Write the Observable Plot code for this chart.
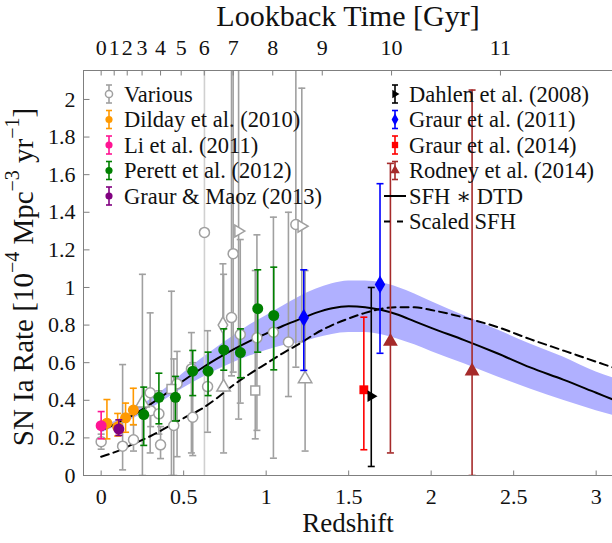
<!DOCTYPE html>
<html><head><meta charset="utf-8">
<script src="https://cdn.jsdelivr.net/npm/d3@7"></script>
<script src="https://cdn.jsdelivr.net/npm/@observablehq/plot@0.6"></script>
<style>
body{margin:0;background:#fff;}
#wrap{width:612px;height:543px;}
svg text{font-family:"Liberation Serif","DejaVu Serif",serif !important;}
</style></head><body><div id="wrap"></div>
<script>
// ---------- axes / ticks ----------
const xDomain = [-0.107, 3.099];
const yDomain = [0, 2.154];
const xTicks = [0, 0.5, 1, 1.5, 2, 2.5, 3];
const yTicks = [0, 0.2, 0.4, 0.6, 0.8, 1, 1.2, 1.4, 1.6, 1.8, 2];
const lookbackLabels = ["0","1","2","3","4","5","6","7","8","9","10","11"];
const lookbackZ = [0, 0.079, 0.158, 0.248, 0.36, 0.485, 0.625, 0.80, 1.04, 1.34, 1.76, 2.42];

// ---------- model curves ----------
const curveZ     = [0, 0.1, 0.2, 0.3, 0.4, 0.5, 0.6, 0.7, 0.8, 0.9, 1.0, 1.1, 1.2, 1.3, 1.4, 1.5, 1.6, 1.7, 1.8, 1.9, 2.0, 2.2, 2.4, 2.6, 2.8, 3.0, 3.1];
const sfhDtd     = [0.24, 0.28, 0.325, 0.38, 0.44, 0.505, 0.565, 0.62, 0.67, 0.715, 0.755, 0.795, 0.83, 0.865, 0.89, 0.9, 0.895, 0.88, 0.855, 0.82, 0.785, 0.72, 0.65, 0.575, 0.51, 0.44, 0.405];
const sfhDtdLo   = [0.225, 0.265, 0.305, 0.355, 0.41, 0.465, 0.515, 0.56, 0.60, 0.635, 0.665, 0.69, 0.705, 0.73, 0.75, 0.76, 0.76, 0.748, 0.725, 0.695, 0.66, 0.595, 0.525, 0.46, 0.40, 0.345, 0.32];
const sfhDtdHi   = [0.255, 0.295, 0.345, 0.405, 0.47, 0.545, 0.615, 0.68, 0.74, 0.80, 0.85, 0.90, 0.95, 0.99, 1.02, 1.035, 1.035, 1.025, 1.0, 0.965, 0.925, 0.85, 0.775, 0.70, 0.63, 0.55, 0.52];
const scaledSfh  = [0.10, 0.13, 0.17, 0.21, 0.257, 0.305, 0.35, 0.41, 0.48, 0.54, 0.595, 0.65, 0.70, 0.755, 0.80, 0.835, 0.865, 0.887, 0.895, 0.895, 0.88, 0.84, 0.79, 0.725, 0.665, 0.605, 0.575];

// ---------- "Various" compilation ----------
const variousZ     = [0.00, 0.13, 0.196, 0.25, 0.297, 0.30, 0.35, 0.36, 0.426, 0.44, 0.46, 0.547, 0.555, 0.645, 0.742, 0.738, 0.79, 0.80, 0.833, 0.843, 0.934, 0.944, 1.044, 1.135, 1.18, 1.216, 1.236];
const variousRate  = [0.18, 0.156, 0.19, 0.385, 0.44, 0.345, 0.328, 0.163, 0.46, 0.266, 0.488, 0.567, 0.31, 0.473, 0.47, 0.80, 0.84, 1.18, 1.30, 0.75, 0.452, 0.732, 0.762, 0.71, 1.335, 1.326, 0.514];
const variousLo    = [0.14, 0.03, 0.13, 0.0, 0.12, 0.26, 0.22, 0.09, 0.0, 0.0, 0.10, 0.12, 0.106, 0.23, 0.12, 0.45, 0.53, 0.55, 0.30, 0.385, 0.195, 0.24, 0.092, 0.42, 0.576, 0.71, 0.13];
const variousHi    = [0.22, 0.59, 0.27, 1.07, 0.865, 0.43, 0.45, 0.26, 0.98, 0.62, 0.66, 0.76, 0.60, 0.77, 1.07, 1.126, 2.3, 2.3, 2.3, 1.255, 1.09, 1.28, 1.374, 1.40, 2.3, 2.06, 1.09];
const variousShape = ["circle","circle","circle","triangle","circle","circle","circle","circle","square","circle","circle","circle","circle","circle","triangle","diamond","circle","circle","triangleRight","circle","square","circle","circle","circle","circle","triangleRight","triangle"];
const faintZ = [0.626], faintRate = [1.293], faintLo = [0.0], faintHi = [2.3];

// ---------- individual surveys ----------
const dildayZ = [0.035, 0.10, 0.148, 0.195], dildayRate = [0.278, 0.259, 0.307, 0.348], dildayLo = [0.195, 0.21, 0.23, 0.27], dildayHi = [0.404, 0.33, 0.385, 0.464];
const liZ = [0.0], liRate = [0.265], liLo = [0.195], liHi = [0.34];
const perrettZ = [0.258, 0.35, 0.45, 0.555, 0.648, 0.743, 0.844, 0.949, 1.046];
const perrettRate = [0.324, 0.416, 0.416, 0.555, 0.555, 0.668, 0.654, 0.887, 0.851];
const perrettLo = [0.16, 0.275, 0.29, 0.425, 0.425, 0.56, 0.52, 0.656, 0.562];
const perrettHi = [0.47, 0.544, 0.527, 0.665, 0.656, 0.78, 0.78, 1.094, 1.108];
const graurMaozZ = [0.107], graurMaozRate = [0.247], graurMaozLo = [0.213], graurMaozHi = [0.296];
const dahlenZ = [1.637], dahlenRate = [0.422], dahlenLo = [0.048], dahlenHi = [1.0];
const graur11Z = [1.228, 1.69], graur11Rate = [0.839, 1.016], graur11Lo = [0.559, 0.65], graur11Hi = [1.094, 1.552];
const graur14Z = [1.592], graur14Rate = [0.456], graur14Lo = [0.137], graur14Hi = [0.842];
const rodneyZ = [1.753, 2.248], rodneyRate = [0.713, 0.555], rodneyLo = [0.12, 0.0], rodneyHi = [1.66, 2.05];

// ---------- build ----------
const GRAY = "#a0a0a0", AX = "#7f7f7f";
const ORANGE = "#ff9900", PINK = "#ff1493", GREEN = "#008000", PURPLE = "#800080", BLUE = "#0000ff", RED = "#ff0000", BROWN = "#a52a2a";
const FONT = "Liberation Serif, DejaVu Serif, serif";

const rows = (z, r, lo, hi) => z.map((d, i) => ({z: d, rate: r[i], lo: lo[i], hi: hi[i]}));
const curve = curveZ.map((z, i) => ({z, mid: sfhDtd[i], lo: sfhDtdLo[i], hi: sfhDtdHi[i], sfh: scaledSfh[i]}));
const various = variousZ.map((z, i) => ({z, rate: variousRate[i], lo: variousLo[i], hi: variousHi[i], shape: variousShape[i]}));
const faint = rows(faintZ, faintRate, faintLo, faintHi);

const capSym = {draw(c){c.moveTo(-3.5,0);c.lineTo(3.5,0);}};
const tickUp = {draw(c){c.moveTo(0,0);c.lineTo(0,-5);}};
const tickDown = {draw(c){c.moveTo(0,0);c.lineTo(0,5);}};
const tickRight = {draw(c){c.moveTo(0,0);c.lineTo(6,0);}};
const triRight = {draw(c,size){const r=Math.sqrt(size/Math.PI)*1.25;c.moveTo(r,0);c.lineTo(-r*0.6,-r*0.95);c.lineTo(-r*0.6,r*0.95);c.closePath();}};
const symOf = {circle: "circle", square: "square", diamond: "diamond", triangle: "triangle", triangleRight: triRight};

function errorSet(data, color, symbol, r) {
  return [
    Plot.ruleX(data, {x: "z", y1: "lo", y2: "hi", stroke: color, strokeWidth: 1.6, clip: true}),
    Plot.dot(data, {x: "z", y: "hi", symbol: capSym, fill: "none", stroke: color, strokeWidth: 1.6, clip: true}),
    Plot.dot(data, {x: "z", y: "lo", symbol: capSym, fill: "none", stroke: color, strokeWidth: 1.6, clip: true}),
    Plot.dot(data, {x: "z", y: "rate", symbol, r, fill: color, stroke: "none", clip: true})
  ];
}

const shapes = ["circle","square","diamond","triangle","triangleRight"];

const chart = Plot.plot({
  width: 612, height: 543,
  marginLeft: 83, marginRight: 0, marginTop: 70, marginBottom: 68,
  style: {fontFamily: FONT, fontSize: "22px", background: "white"},
  x: {domain: xDomain, axis: null},
  y: {domain: yDomain, axis: null},
  marks: [
    Plot.areaY(curve, {x: "z", y1: "lo", y2: "hi", fill: "#b0b0ff", curve: "monotone-x", clip: true}),
    // gray compilation error bars
    Plot.ruleX(faint, {x: "z", y1: "lo", y2: "hi", stroke: "#d0d0d0", strokeWidth: 1.6, clip: true}),
    Plot.ruleX(various, {x: "z", y1: "lo", y2: "hi", stroke: GRAY, strokeWidth: 1.6, clip: true}),
    Plot.dot(various, {x: "z", y: "hi", symbol: capSym, fill: "none", stroke: GRAY, strokeWidth: 1.6, clip: true}),
    Plot.dot(various, {x: "z", y: "lo", symbol: capSym, fill: "none", stroke: GRAY, strokeWidth: 1.6, clip: true}),
    // model curves
    Plot.line(curve, {x: "z", y: "mid", stroke: "black", strokeWidth: 2, curve: "monotone-x", clip: true}),
    Plot.line(curve, {x: "z", y: "sfh", stroke: "black", strokeWidth: 2, strokeDasharray: "8,5", curve: "monotone-x", clip: true}),
    // gray markers
    Plot.dot(faint, {x: "z", y: "rate", r: 5, fill: "white", stroke: GRAY, strokeWidth: 1.5}),
    ...shapes.map(s => Plot.dot(various.filter(d => d.shape === s), {x: "z", y: "rate", symbol: symOf[s], r: 5, fill: "white", stroke: GRAY, strokeWidth: 1.5, clip: true})),
    // surveys
    ...errorSet(rows(perrettZ, perrettRate, perrettLo, perrettHi), GREEN, "circle", 5.5),
    ...errorSet(rows(dildayZ, dildayRate, dildayLo, dildayHi), ORANGE, "circle", 5.5),
    ...errorSet(rows(graurMaozZ, graurMaozRate, graurMaozLo, graurMaozHi), PURPLE, "circle", 5.5),
    ...errorSet(rows(liZ, liRate, liLo, liHi), PINK, "circle", 5.5),
    ...errorSet(rows(graur11Z, graur11Rate, graur11Lo, graur11Hi), BLUE, "diamond", 5.5),
    ...errorSet(rows(graur14Z, graur14Rate, graur14Lo, graur14Hi), RED, "square", 5),
    ...errorSet(rows(dahlenZ, dahlenRate, dahlenLo, dahlenHi), "black", triRight, 5),
    ...errorSet(rows(rodneyZ, rodneyRate, rodneyLo, rodneyHi), BROWN, "triangle", 5.5),
    // frame lines
    Plot.ruleX([xDomain[0]], {stroke: AX, strokeWidth: 1}),
    Plot.ruleY(yDomain, {stroke: AX, strokeWidth: 1}),
    // inward ticks
    Plot.dot(xTicks, {x: d => d, frameAnchor: "bottom", symbol: tickUp, fill: "none", stroke: AX, strokeWidth: 1}),
    Plot.dot(yTicks, {y: d => d, frameAnchor: "left", symbol: tickRight, fill: "none", stroke: AX, strokeWidth: 1}),
    Plot.dot(lookbackZ, {x: d => d, frameAnchor: "top", symbol: tickDown, fill: "none", stroke: AX, strokeWidth: 1}),
    // tick labels
    Plot.text(xTicks, {x: d => d, text: d => String(d), frameAnchor: "bottom", lineAnchor: "middle", dy: 21, fontSize: 22, fill: "#111"}),
    Plot.text(yTicks, {y: d => d, text: d => String(d), frameAnchor: "left", textAnchor: "end", lineAnchor: "middle", dx: -8, fontSize: 22, fill: "#111"}),
    Plot.text(lookbackZ, {x: d => d, text: (d, i) => lookbackLabels[i], frameAnchor: "top", lineAnchor: "middle", dy: -23, fontSize: 22, fill: "#111"}),
    // titles
    Plot.text(["Lookback Time [Gyr]"], {frameAnchor: "top", lineAnchor: "middle", dy: -54, fontSize: 30, fill: "#111"}),
    Plot.text(["Redshift"], {frameAnchor: "bottom", lineAnchor: "middle", dy: 48, fontSize: 27, fill: "#111"})
  ]
});

// y-axis title with superscripts
const svg = d3.select(chart);
const yt = svg.append("text")
  .attr("transform", "translate(23,277) rotate(-90)")
  .attr("text-anchor", "middle").attr("dominant-baseline", "central")
  .attr("font-size", 29).attr("fill", "#111")
  .attr("font-family", FONT);
const parts = [["SN Ia Rate [10",0],["−4",1],[" Mpc",0],["−3",1],[" yr",0],["−1",1],["]",0]];
parts.forEach(([t, sup]) => {
  yt.append("tspan").text(t).attr("baseline-shift", sup ? "super" : null).attr("font-size", sup ? 20 : null);
});

// legends
function marker(g, kind, color) {
  if (kind === "line" || kind === "dash") {
    g.append("line").attr("x1", -11).attr("x2", 11).attr("stroke", "black").attr("stroke-width", 2)
      .attr("stroke-dasharray", kind === "dash" ? "6,7" : null);
    return;
  }
  g.append("line").attr("y1", -9).attr("y2", 9).attr("stroke", color).attr("stroke-width", 1.6);
  g.append("line").attr("x1", -3).attr("x2", 3).attr("y1", -9).attr("y2", -9).attr("stroke", color).attr("stroke-width", 1.6);
  g.append("line").attr("x1", -3).attr("x2", 3).attr("y1", 9).attr("y2", 9).attr("stroke", color).attr("stroke-width", 1.6);
  const types = {circle: d3.symbolCircle, open: d3.symbolCircle, diamond: d3.symbolDiamond, square: d3.symbolSquare, triangle: d3.symbolTriangle, tri: triRight};
  g.append("path").attr("d", d3.symbol(types[kind], 40)())
    .attr("fill", kind === "open" ? "white" : color).attr("stroke", kind === "open" ? color : "none").attr("stroke-width", 1.5);
}
function legend(items, mx, tx, y0) {
  items.forEach((it, i) => {
    const y = y0 + i * 25.5;
    const g = svg.append("g").attr("transform", `translate(${mx},${y})`);
    marker(g, it[1], it[2]);
    svg.append("text").attr("x", tx).attr("y", y).attr("dominant-baseline", "central")
      .attr("text-anchor", "start")
      .attr("font-size", 22.5).attr("fill", "#111").attr("font-family", FONT).text(it[0]);
  });
}
legend([["Various","open",GRAY],["Dilday et al. (2010)","circle",ORANGE],["Li et al. (2011)","circle",PINK],["Perett et al. (2012)","circle",GREEN],["Graur & Maoz (2013)","circle",PURPLE]], 109, 124, 94);
legend([["Dahlen et al. (2008)","tri","black"],["Graur et al. (2011)","diamond",BLUE],["Graur et al. (2014)","square",RED],["Rodney et al. (2014)","triangle",BROWN],["SFH ∗ DTD","line","black"],["Scaled SFH","dash","black"]], 395, 409, 94);

document.getElementById("wrap").appendChild(chart);
</script></body></html>
